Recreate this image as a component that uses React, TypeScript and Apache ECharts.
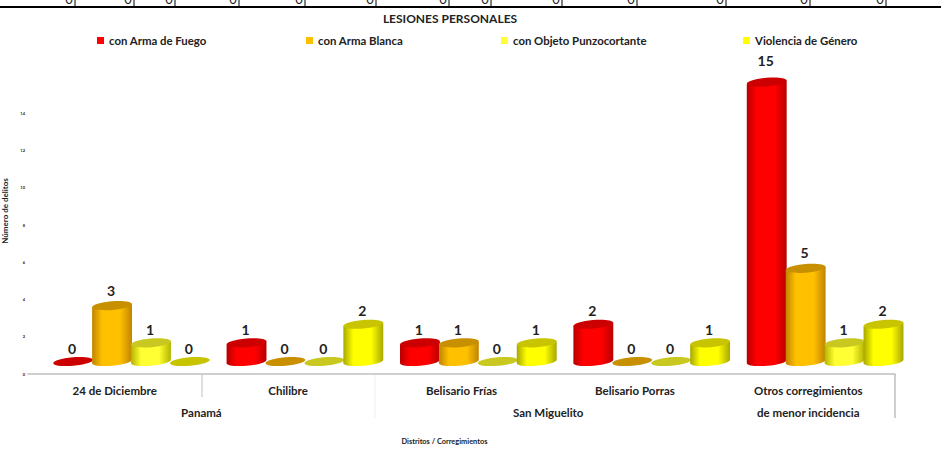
import React, { useEffect, useRef } from "react";
import * as echarts from "echarts";

const districts = ["24 de Diciembre", "Chilibre", "Belisario Frías", "Belisario Porras", "Otros corregimientos"];
const groupSlots = ["", "", "Panamá", "", "", "", "San Miguelito", "", "", "de menor incidencia", ""];
const seriesNames = ["con Arma de Fuego", "con Arma Blanca", "con Objeto Punzocortante", "Violencia de Género"];
const armaFuego = [0, 1, 1, 2, 15];
const armaBlanca = [3, 0, 1, 0, 5];
const objetoPunzo = [1, 0, 0, 0, 1];
const violenciaGenero = [0, 2, 1, 1, 2];
const seriesValues = [armaFuego, armaBlanca, objetoPunzo, violenciaGenero];
const sideColors = ["#ff0000", "#ffc000", "#ffff33", "#ffff00"];
const edgeColors = ["#b80000", "#c08400", "#b4b400", "#a8a800"];
const capColors = ["#cc0000", "#c89000", "#c8c820", "#c8c400"];
const legendLefts = [97, 306, 501, 743];
const topTableEdges = [75, 134, 175, 239, 305, 376, 449, 491, 562, 637, 726, 810, 886];

const FONT = "Lato, 'Open Sans', sans-serif";

export default function App() {
  const ref = useRef<HTMLDivElement>(null);
  useEffect(() => {
    const chart = echarts.init(ref.current!, undefined, { renderer: "svg" });
    const lift = 12.5;
    const tilt = 0.085;
    const makeSeries = (idx: number) => ({
      type: "custom",
      name: seriesNames[idx],
      xAxisIndex: 0,
      yAxisIndex: 0,
      z: 2 + idx,
      clip: false,
      itemStyle: { color: sideColors[idx] },
      encode: { x: 0, y: 1 },
      data: seriesValues[idx].map((v, i) => [i, v]),
      renderItem: (_p: any, api: any) => {
        const cat = api.value(0);
        const v = api.value(1);
        const band = api.size([1, 0])[0];
        const top = api.coord([cat, v]);
        const base = api.coord([cat, 0]);
        const rx = band * 0.115;
        const ry = 4.3;
        const cx = top[0] + band * 0.097 + (idx - 1.5) * band * 0.2245;
        const yTop = top[1] - lift;
        const yBase = base[1] - lift;
        const skew = rx * tilt;
        const side = {
          type: "linear", x: 0, y: 0, x2: 1, y2: 0,
          colorStops: [
            { offset: 0, color: edgeColors[idx] },
            { offset: 0.25, color: sideColors[idx] },
            { offset: 0.7, color: sideColors[idx] },
            { offset: 1, color: edgeColors[idx] },
          ],
        };
        const ellipse = (cy: number, fill: any) => ({
          type: "ellipse",
          x: cx, y: cy, rotation: tilt,
          shape: { cx: 0, cy: 0, rx, ry },
          style: { fill },
        });
        const children: any[] = [];
        if (v > 0) {
          children.push(ellipse(yBase, side));
          children.push({
            type: "polygon",
            shape: {
              points: [
                [cx - rx, yTop + skew], [cx + rx, yTop - skew],
                [cx + rx, yBase - skew], [cx - rx, yBase + skew],
              ],
            },
            style: { fill: side },
          });
        }
        children.push(ellipse(yTop, capColors[idx]));
        children.push({
          type: "text",
          style: {
            x: cx - 1, y: yTop - 13 - v * 0.55,
            text: String(v),
            fill: "#222",
            font: `bold 14px ${FONT}`,
            textAlign: "center", textVerticalAlign: "middle",
          },
        });
        return { type: "group", children };
      },
    });

    const grayLine = (x: number, y1: number, y2: number, stroke: string, lineWidth = 1) => ({
      type: "line",
      shape: { x1: x, y1, x2: x, y2 },
      style: { stroke, lineWidth },
      silent: true,
    });

    chart.setOption({
      animation: false,
      backgroundColor: "#fff",
      textStyle: { fontFamily: FONT },
      title: {
        text: "LESIONES PERSONALES",
        left: 445, top: 7, textAlign: "center",
        textStyle: { fontSize: 12, fontWeight: "bold", color: "#222", fontFamily: FONT },
      },
      legend: seriesNames.map((name, i) => ({
        data: [name], left: legendLefts[i], top: 35,
        icon: "rect", itemWidth: 7, itemHeight: 7, selectedMode: false,
        padding: 0,
        textStyle: { fontSize: 11.4, fontWeight: "bold", color: "#222", fontFamily: FONT },
      })),
      grid: { left: 28, right: 46, top: 76, bottom: 77, containLabel: false },
      xAxis: [
        {
          type: "category", data: districts, position: "bottom",
          axisLine: { lineStyle: { color: "#bfbfbf", width: 1.5 } },
          axisTick: { show: false },
          axisLabel: { interval: 0, margin: 10, fontSize: 11.5, fontWeight: "bold", color: "#222", fontFamily: FONT },
        },
        {
          type: "category", data: groupSlots, position: "bottom", offset: 21, boundaryGap: false,
          axisLine: { show: false }, axisTick: { show: false },
          axisLabel: { interval: 0, margin: 11, fontSize: 11.5, fontWeight: "bold", color: "#222", fontFamily: FONT },
        },
      ],
      yAxis: {
        type: "value", min: 0, max: 16, interval: 2,
        axisLine: { show: false }, axisTick: { show: false }, splitLine: { show: false },
        axisLabel: {
          margin: 3, fontSize: 4, fontWeight: "bold", color: "#222", fontFamily: FONT,
          formatter: (v: number) => (v >= 16 ? "" : String(v)),
        },
      },
      graphic: [
        { type: "rect", shape: { x: 0, y: 6, width: 941, height: 2 }, style: { fill: "#000" }, silent: true },
        ...topTableEdges.map((x) => grayLine(x, 0, 7, "#000")),
        ...topTableEdges.map((x) => ({
          type: "text", silent: true,
          style: {
            x: x - 6, y: 5.5, text: "0", fill: "#222",
            font: `13px ${FONT}`, textAlign: "center", textVerticalAlign: "bottom",
          },
        })),
        grayLine(202, 374, 397, "#bfbfbf"),
        grayLine(375, 374, 418, "#eeeeee"),
        grayLine(895, 374, 418, "#bfbfbf", 1.5),
        {
          type: "text", x: 5, y: 211, rotation: Math.PI / 2, silent: true,
          style: {
            text: "Número de delitos", fill: "#222",
            font: `bold 8px ${FONT}`, textAlign: "center", textVerticalAlign: "middle",
          },
        },
        {
          type: "text", silent: true,
          style: {
            x: 444.5, y: 441, text: "Distritos / Corregimientos", fill: "#222",
            font: `bold 7.4px ${FONT}`, textAlign: "center", textVerticalAlign: "middle",
          },
        },
      ],
      series: seriesNames.map((_, i) => makeSeries(i)),
    } as any);
    return () => chart.dispose();
  }, []);
  return <div ref={ref} style={{ position: "fixed", left: 0, top: 0, width: 941, height: 451 }} />;
}
